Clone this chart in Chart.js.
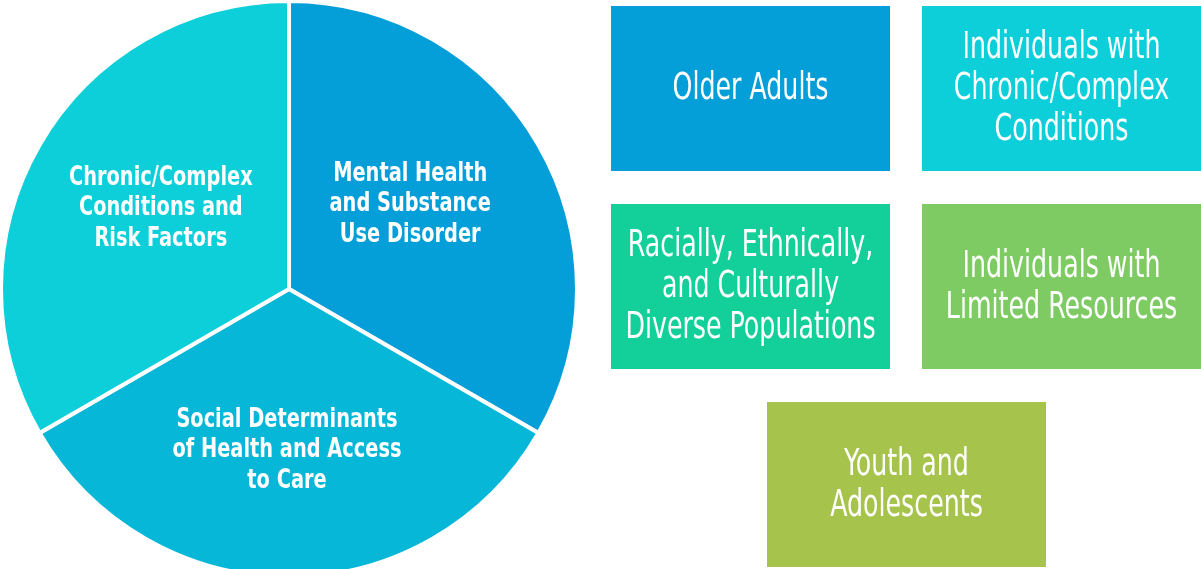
<!DOCTYPE html>
<html>
<head>
<meta charset="utf-8">
<script src="https://cdn.jsdelivr.net/npm/chart.js@4.4.0/dist/chart.umd.min.js"></script>
<style>
  html, body { margin: 0; padding: 0; background: #fff; overflow: hidden; }
  #wrap { position: relative; width: 1201px; height: 569px; }
</style>
</head>
<body>
<div id="wrap"><canvas id="c" width="1201" height="569"></canvas></div>
<script>
// pie slices (clockwise from 12 o'clock)
const focusAreas = [
  ["Mental Health", "and Substance", "Use Disorder"],
  ["Social Determinants", "of Health and Access", "to Care"],
  ["Chronic/Complex", "Conditions and", "Risk Factors"]
];
const focusShares = [1, 1, 1];
const focusColors = ["#049ed8", "#07b7d8", "#0dcfda"];

// population tiles
const populations = [
  ["Older Adults"],
  ["Individuals with", "Chronic/Complex", "Conditions"],
  ["Racially, Ethnically,", "and Culturally", "Diverse Populations"],
  ["Individuals with", "Limited Resources"],
  ["Youth and", "Adolescents"]
];
const populationColors = ["#049ed8", "#0dcfda", "#13cf99", "#7ecb63", "#a6c34b"];

// layout only: tile boxes (x, y, w, h) and caption nudges (dx, dy)
const tileBoxes = [
  [611, 6, 279, 165],
  [922, 6, 279, 165],
  [611, 204, 279, 165],
  [922, 204, 279, 165],
  [767, 402, 279, 165]
];
const captionNudge = [[-11, -11], [-2, 6], [4, -7]];

const FONT = '"Liberation Sans Narrow", "DejaVu Sans Condensed", "Liberation Sans", sans-serif';

function squeezeFor(ctx, font, sample, target) {
  ctx.font = font;
  return target / ctx.measureText(sample).width;
}

// cy = baseline of the middle of the block
function drawLines(ctx, lines, cx, cy, font, sx, lh) {
  ctx.font = font;
  ctx.fillStyle = "#fff";
  ctx.textAlign = "center";
  ctx.textBaseline = "alphabetic";
  const top = cy - (lines.length - 1) * lh / 2;
  lines.forEach((line, i) => {
    ctx.save();
    ctx.translate(cx, top + i * lh);
    ctx.scale(sx, 1);
    ctx.fillText(line, 0, 0);
    ctx.restore();
  });
}

const labelsPlugin = {
  id: "labels",
  afterDraw(chart) {
    const ctx = chart.ctx;
    const meta = chart.getDatasetMeta(0);

    // slice captions
    const boldFont = "bold 26px " + FONT;
    const bsx = squeezeFor(ctx, boldFont, "Mental Health", 154);
    meta.data.forEach((arc, i) => {
      const { x, y, startAngle, endAngle, outerRadius } = arc.getProps(
        ["x", "y", "startAngle", "endAngle", "outerRadius"], true);
      const mid = (startAngle + endAngle) / 2;
      const r = outerRadius * 0.53;
      const cx = x + Math.cos(mid) * r + captionNudge[i][0];
      const cy = y + Math.sin(mid) * r + captionNudge[i][1];
      drawLines(ctx, focusAreas[i], cx, cy + 9.5, boldFont, bsx, 30.5);
    });

    // tiles
    const tileFont = "37px " + FONT;
    const tsx = squeezeFor(ctx, tileFont, "Older Adults", 156);
    populations.forEach((lines, i) => {
      const [bx, by, bw, bh] = tileBoxes[i];
      ctx.fillStyle = populationColors[i];
      ctx.fillRect(bx, by, bw, bh);
      drawLines(ctx, lines, bx + bw / 2, by + bh / 2 + 10.5, tileFont, tsx, 41);
    });
  }
};

new Chart(document.getElementById("c"), {
  type: "pie",
  data: {
    labels: focusAreas.map(l => l.join(" ")),
    datasets: [{
      data: focusShares,
      backgroundColor: focusColors,
      borderColor: "#fff",
      borderWidth: 4
    }]
  },
  options: {
    responsive: false,
    animation: false,
    radius: 288,
    layout: { padding: { left: 3, right: 626, top: 9, bottom: 0 } },
    plugins: { legend: { display: false }, tooltip: { enabled: false } }
  },
  plugins: [labelsPlugin]
});
</script>
</body>
</html>
